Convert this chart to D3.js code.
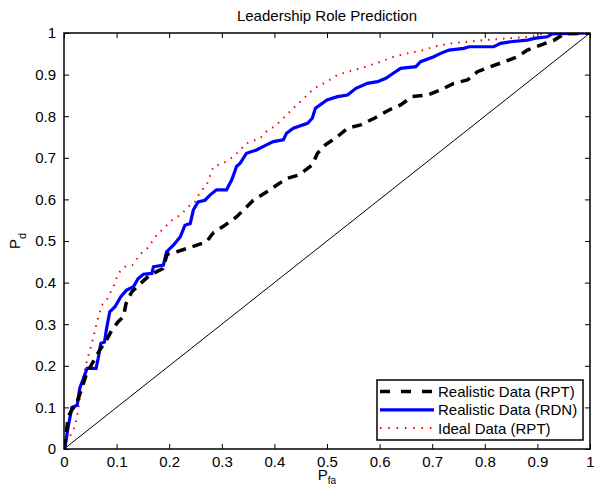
<!DOCTYPE html>
<html>
<head>
<meta charset="utf-8">
<script src="https://cdn.jsdelivr.net/npm/d3@7"></script>
<style>
  body { margin: 0; background: #fff; }
  text { font-family: "Liberation Sans", Arial, Helvetica, sans-serif; fill: #000; }
</style>
</head>
<body>
<div id="chart"></div>
<script>
// ROC curves, [P_fa, P_d] pairs
const realisticRPT = [
  [0, 0], [0.002, 0.014], [0.008, 0.078], [0.015, 0.094], [0.024, 0.11], [0.034, 0.146],
  [0.043, 0.182], [0.068, 0.238], [0.081, 0.262], [0.091, 0.286], [0.103, 0.306], [0.113, 0.318],
  [0.118, 0.35], [0.129, 0.378], [0.144, 0.396], [0.163, 0.418], [0.188, 0.434], [0.196, 0.468],
  [0.214, 0.474], [0.243, 0.486], [0.271, 0.498], [0.284, 0.52], [0.306, 0.538], [0.328, 0.558],
  [0.347, 0.582], [0.36, 0.598], [0.385, 0.618], [0.404, 0.634], [0.423, 0.65], [0.447, 0.659],
  [0.472, 0.683], [0.482, 0.711], [0.497, 0.731], [0.52, 0.751], [0.539, 0.771], [0.564, 0.779],
  [0.59, 0.795], [0.618, 0.815], [0.64, 0.827], [0.662, 0.847], [0.691, 0.851], [0.716, 0.863],
  [0.741, 0.879], [0.767, 0.887], [0.786, 0.907], [0.811, 0.919], [0.837, 0.931], [0.862, 0.943],
  [0.881, 0.959], [0.906, 0.971], [0.932, 0.983], [0.951, 0.998], [1, 1]
];
const realisticRDN = [
  [0, 0], [0.002, 0.005], [0.008, 0.054], [0.015, 0.1], [0.025, 0.105], [0.03, 0.146],
  [0.037, 0.17], [0.044, 0.194], [0.061, 0.194], [0.065, 0.218], [0.07, 0.254], [0.077, 0.257],
  [0.081, 0.29], [0.087, 0.33], [0.097, 0.342], [0.108, 0.366], [0.119, 0.382], [0.132, 0.39],
  [0.141, 0.41], [0.151, 0.42], [0.167, 0.422], [0.17, 0.438], [0.189, 0.442], [0.195, 0.474],
  [0.208, 0.49], [0.221, 0.51], [0.23, 0.538], [0.24, 0.542], [0.246, 0.575], [0.255, 0.594],
  [0.268, 0.598], [0.278, 0.611], [0.29, 0.623], [0.309, 0.623], [0.319, 0.647], [0.328, 0.679],
  [0.335, 0.687], [0.347, 0.711], [0.366, 0.719], [0.385, 0.731], [0.398, 0.739], [0.417, 0.743],
  [0.423, 0.759], [0.436, 0.771], [0.463, 0.783], [0.472, 0.795], [0.478, 0.819], [0.5, 0.839],
  [0.52, 0.847], [0.539, 0.851], [0.555, 0.867], [0.577, 0.879], [0.596, 0.883], [0.612, 0.891],
  [0.621, 0.899], [0.64, 0.915], [0.669, 0.919], [0.678, 0.931], [0.703, 0.943], [0.716, 0.951],
  [0.732, 0.959], [0.76, 0.963], [0.77, 0.967], [0.817, 0.967], [0.83, 0.975], [0.849, 0.979],
  [0.881, 0.983], [0.894, 0.987], [0.919, 0.991], [0.928, 0.998], [1, 1]
];
const idealRPT = [
  [0, 0], [0.002, 0.014], [0.011, 0.03], [0.021, 0.054], [0.027, 0.094], [0.034, 0.158],
  [0.044, 0.214], [0.053, 0.254], [0.062, 0.302], [0.072, 0.346], [0.081, 0.358], [0.094, 0.39],
  [0.103, 0.422], [0.116, 0.438], [0.13, 0.442], [0.146, 0.47], [0.157, 0.48], [0.165, 0.494],
  [0.176, 0.514], [0.189, 0.53], [0.205, 0.55], [0.221, 0.562], [0.236, 0.582], [0.249, 0.594],
  [0.259, 0.618], [0.271, 0.634], [0.284, 0.679], [0.303, 0.687], [0.322, 0.703], [0.335, 0.719],
  [0.347, 0.735], [0.373, 0.747], [0.385, 0.763], [0.404, 0.779], [0.423, 0.803], [0.436, 0.819],
  [0.456, 0.843], [0.475, 0.867], [0.5, 0.883], [0.52, 0.899], [0.539, 0.907], [0.564, 0.915],
  [0.583, 0.923], [0.602, 0.931], [0.627, 0.943], [0.653, 0.951], [0.684, 0.959], [0.703, 0.967],
  [0.735, 0.975], [0.767, 0.979], [0.798, 0.983], [0.843, 0.987], [0.881, 0.991], [0.919, 1], [1, 1]
];
const chanceLine = [[0, 0], [1, 1]];

const tickValues = [0, 0.1, 0.2, 0.3, 0.4, 0.5, 0.6, 0.7, 0.8, 0.9, 1];
const seriesNames = ["Realistic Data (RPT)", "Realistic Data (RDN)", "Ideal Data (RPT)"];

const W = 594, H = 488;
const margin = {top: 33, right: 4, bottom: 39, left: 64};
const width = W - margin.left - margin.right;
const height = H - margin.top - margin.bottom;

const svg = d3.select("#chart").append("svg")
    .attr("width", W)
    .attr("height", H);

const g = svg.append("g")
    .attr("transform", "translate(" + margin.left + "," + margin.top + ")");

const x = d3.scaleLinear().domain([0, 1]).range([0, width]);
const y = d3.scaleLinear().domain([0, 1]).range([height, 0]);
const fmt = d => String(+d.toFixed(1));

// clip for the curves
svg.append("defs").append("clipPath").attr("id", "plotClip")
    .append("rect").attr("width", width).attr("height", height);

// axes, ticks pointing inward like matlab
g.append("g")
    .attr("transform", "translate(0," + height + ")")
    .call(d3.axisBottom(x).tickValues(tickValues).tickFormat(fmt).tickSizeInner(-5).tickSizeOuter(0).tickPadding(7));
g.append("g")
    .call(d3.axisLeft(y).tickValues(tickValues).tickFormat(fmt).tickSizeInner(-5).tickSizeOuter(0).tickPadding(8));
g.append("g")
    .call(d3.axisTop(x).tickValues(tickValues).tickFormat("").tickSizeInner(-5).tickSizeOuter(0));
g.append("g")
    .attr("transform", "translate(" + width + ",0)")
    .call(d3.axisRight(y).tickValues(tickValues).tickFormat("").tickSizeInner(-5).tickSizeOuter(0));

g.selectAll(".domain").remove();
g.selectAll(".tick line").attr("stroke", "#000").attr("stroke-width", 1);
g.selectAll(".tick text").style("font-size", "15px").attr("fill", "#000");

const line = d3.line().x(d => x(d[0])).y(d => y(d[1]));

const plot = g.append("g").attr("clip-path", "url(#plotClip)");

plot.append("path")
    .datum(chanceLine)
    .attr("d", line)
    .attr("fill", "none")
    .attr("stroke", "#000")
    .attr("stroke-width", 1);

plot.append("path")
    .datum(idealRPT)
    .attr("d", line)
    .attr("fill", "none")
    .attr("stroke", "#ff0000")
    .attr("stroke-width", 2)
    .attr("stroke-dasharray", "1.5,6");

plot.append("path")
    .datum(realisticRDN)
    .attr("d", line)
    .attr("fill", "none")
    .attr("stroke", "#0000ff")
    .attr("stroke-width", 3.2);

plot.append("path")
    .datum(realisticRPT)
    .attr("d", line)
    .attr("fill", "none")
    .attr("stroke", "#000")
    .attr("stroke-width", 3.5)
    .attr("stroke-dasharray", "10,7");

// box
g.append("rect")
    .attr("width", width)
    .attr("height", height)
    .attr("fill", "none")
    .attr("stroke", "#000")
    .attr("stroke-width", 1.5);

// title and axis labels
svg.append("text")
    .attr("x", margin.left + width / 2)
    .attr("y", 21)
    .attr("text-anchor", "middle")
    .style("font-size", "15px")
    .text("Leadership Role Prediction");

const xl = svg.append("text")
    .attr("x", margin.left + width / 2)
    .attr("y", 480)
    .attr("text-anchor", "middle")
    .style("font-size", "15px");
xl.append("tspan").text("P");
xl.append("tspan").attr("dy", 4).style("font-size", "10px").text("fa");

const yl = svg.append("text")
    .attr("transform", "translate(20," + (margin.top + height / 2) + ") rotate(-90)")
    .attr("text-anchor", "middle")
    .style("font-size", "15px");
yl.append("tspan").text("P");
yl.append("tspan").attr("dy", 6).style("font-size", "11px").text("d");

// legend
const legend = svg.append("g").attr("transform", "translate(377,380)");
legend.append("rect")
    .attr("width", 206)
    .attr("height", 60)
    .attr("fill", "#fff")
    .attr("stroke", "#000")
    .attr("stroke-width", 1.5);

const legendStyles = [
  {stroke: "#000", width: 3.5, dash: "10,11"},
  {stroke: "#0000ff", width: 3.2, dash: null},
  {stroke: "#ff0000", width: 2, dash: "1.5,6.8"}
];

seriesNames.forEach(function(name, i) {
    let row = legend.append("g").attr("transform", "translate(0," + (11.5 + i * 18.3) + ")");
    row.append("line")
        .attr("x1", 3).attr("x2", 57)
        .attr("stroke", legendStyles[i].stroke)
        .attr("stroke-width", legendStyles[i].width)
        .attr("stroke-dasharray", legendStyles[i].dash);
    row.append("text")
        .attr("x", 61)
        .attr("dy", "0.36em")
        .style("font-size", "15px")
        .text(name);
});
</script>
</body>
</html>
